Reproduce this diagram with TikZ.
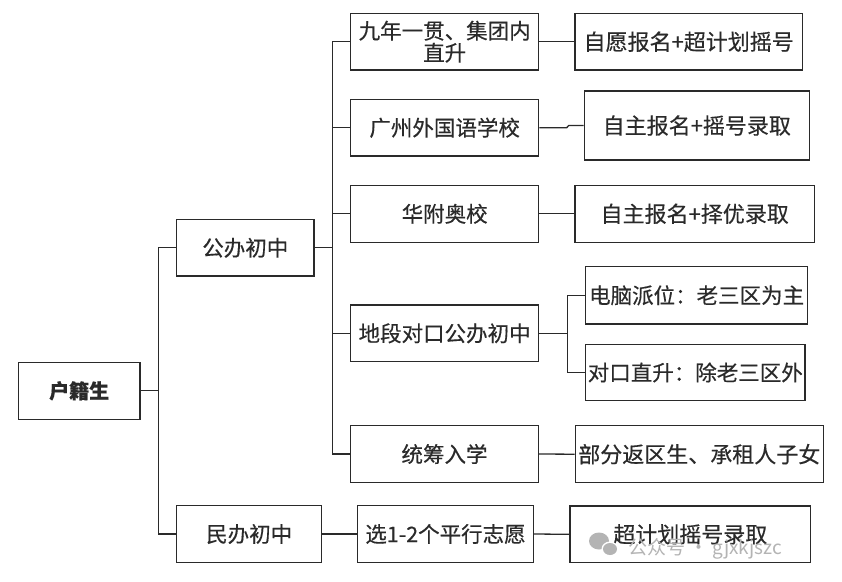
\documentclass[tikz,border=0pt]{standalone}
\usepackage{fontspec}
\setmainfont{Noto Sans CJK SC}
\newfontfamily\cjk[FakeBold=0.35]{Noto Sans CJK SC}
\newfontfamily\cjkwm{Noto Sans CJK SC}
\definecolor{ink}{HTML}{2A2A2A}
\definecolor{wm}{HTML}{B4B4B4}
\begin{document}
\begin{tikzpicture}[x=1pt,y=-1pt,
  box/.style={draw=ink,line width=1.4pt,inner sep=0pt,text=ink,align=center},
  fmid/.style={font=\cjk\fontsize{21.5pt}{24pt}\selectfont},
  fbig/.style={font=\cjk\fontsize{22pt}{24pt}\selectfont},
  conn/.style={draw=ink,line width=1.3pt}]
\useasboundingbox (0,0) rectangle (842,581);
\fill[white] (0,0) rectangle (842,581);
% level 0
\node[box,minimum width=121.7,minimum height=57,font=\cjk\bfseries\fontsize{20pt}{22pt}\selectfont] (hj) at (79.2,390.8) {户籍生};
% level 1
\node[box,fmid,minimum width=137.3,minimum height=56.3] (gb) at (245.3,247.8) {公办初中};
\node[box,fmid,minimum width=145,minimum height=57.4] (mb) at (249.2,534) {民办初中};
% level 2
\node[box,fmid,minimum width=188,minimum height=56.7] (a1) at (444.7,41.7) {九年一贯、集团内\\[-2pt]直升};
\node[box,fmid,minimum width=188,minimum height=56.7] (a2) at (444.7,127.7) {广州外国语学校};
\node[box,fmid,minimum width=188,minimum height=57] (a3) at (444.7,213.8) {华附奥校};
\node[box,fmid,minimum width=188,minimum height=56.7] (a4) at (444.6,333.3) {地段对口公办初中};
\node[box,fmid,minimum width=188,minimum height=56.6] (a5) at (444.5,454) {统筹入学};
\node[box,fmid,minimum width=175.6,minimum height=57.4] (b1) at (445.5,534) {选1-2个平行志愿};
% level 3
\node[box,fbig,minimum width=227.3,minimum height=56.7] (c1) at (688.7,41.7) {自愿报名+超计划摇号};
\node[box,fbig,minimum width=225,minimum height=69] (c2) at (696.8,125.5) {自主报名+摇号录取};
\node[box,fbig,minimum width=239.3,minimum height=57] (c3) at (694.7,213.8) {自主报名+择优录取};
\node[box,fmid,minimum width=221.8,minimum height=57.3] (c4) at (696.6,295.3) {电脑派位：老三区为主};
\node[box,fmid,minimum width=219.3,minimum height=56.4] (c5) at (695.3,372.5) {对口直升：除老三区外};
\node[box,fbig,minimum width=248,minimum height=57] (c6) at (699.3,454.2) {部分返区生、承租人子女};
\node[box,fbig,minimum width=240.7,minimum height=56.7] (c7) at (690.3,534.3) {超计划摇号录取};
% trunks
\coordinate (t1) at (158.3,0);
\coordinate (t2) at (332.3,0);
\coordinate (t3) at (567.3,0);
\coordinate (j2) at (566.7,0);
% connectors
\draw[conn] (hj.east) -- (hj.east -| t1);
\draw[conn] (gb.west) -- (gb.west -| t1) |- (mb.west);
\draw[conn] (gb.east) -- (gb.east -| t2);
\draw[conn] (a1.west) -- (a1.west -| t2) |- (a5.west);
\draw[conn] (a2.west) -- (a2.west -| t2);
\draw[conn] (a3.west) -- (a3.west -| t2);
\draw[conn] (a4.west) -- (a4.west -| t2);
\draw[conn] (mb.east) -- (b1.west);
\draw[conn] (a1.east) -- (c1.west);
\draw[conn] (a2.east) -- (a2.east -| j2) -- ([xshift=2pt]j2 |- c2.west) -- (c2.west);
\draw[conn] (a3.east) -- (c3.west);
\draw[conn] (a4.east) -- (a4.east -| t3);
\draw[conn] (c4.west) -- (c4.west -| t3) |- (c5.west);
\draw[conn] (a5.east) -- (c6.west);
\draw[conn] (b1.east) -- (c7.west);
% watermark
\fill[wm] (599,541) ellipse (10 and 8.5);
\fill[white] (610,549) ellipse (8.5 and 7.5);
\fill[wm] (610,549) ellipse (7 and 6);
\node[anchor=west,text=wm,font=\cjkwm\fontsize{19pt}{21pt}\selectfont,inner sep=0pt] (wmt) at (628,549) {公众号 · gjxkjszc};
\end{tikzpicture}
\end{document}
